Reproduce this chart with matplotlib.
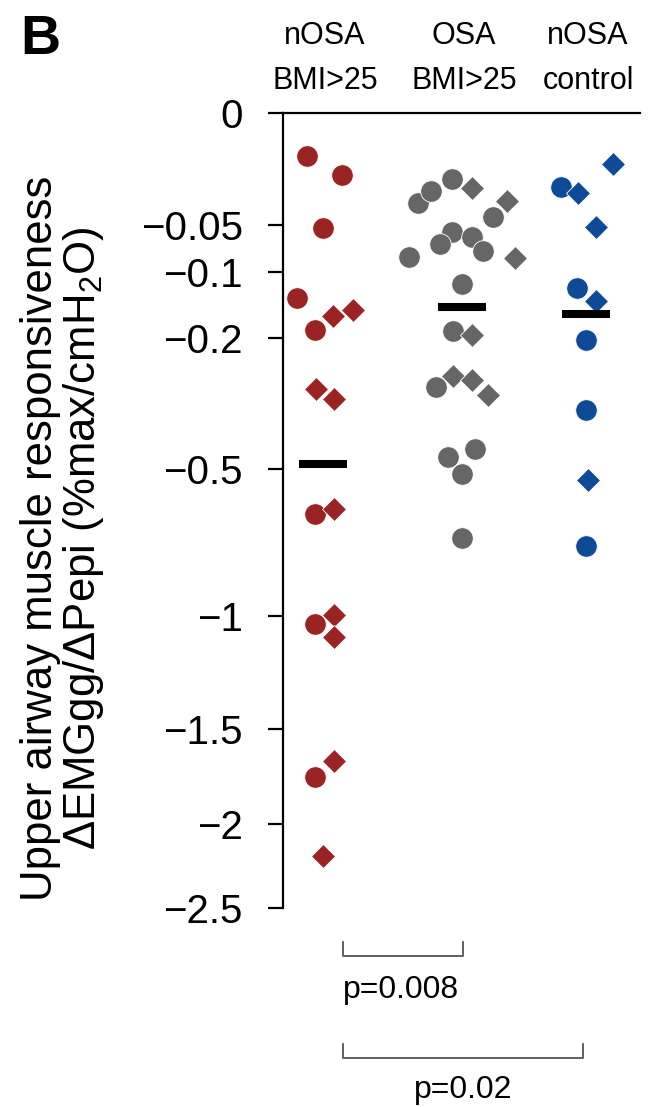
import numpy as np
import matplotlib
matplotlib.use("Agg")
import matplotlib.pyplot as plt

plt.rcParams['font.family'] = ['Liberation Sans', 'DejaVu Sans']
plt.rcParams['mathtext.fontset'] = 'custom'
plt.rcParams['mathtext.rm'] = 'Liberation Sans'

# ---- data ----
groups = ["nOSA\nBMI>25", "OSA\nBMI>25", "nOSA\ncontrol"]
colors = ["#9a2423", "#666666", "#0e4a96"]

red_circles = [-0.0074, -0.0154, -0.052, -0.135, -0.187, -0.637, -1.032, -1.742]
red_diamonds = [-0.163, -0.154, -0.302, -0.323, -0.621, -0.996, -1.086, -1.659, -2.185]

gray_circles = [-0.0317, -0.0243, -0.0174, -0.0424, -0.0557, -0.0676, -0.0605, -0.0751,
                -0.0818, -0.1156, -0.188, -0.296, -0.468, -0.446, -0.5155, -0.716]
gray_diamonds = [-0.0225, -0.0303, -0.0829, -0.195, -0.2746, -0.281, -0.3136]

blue_circles = [-0.0219, -0.121, -0.204, -0.348, -0.740]
blue_diamonds = [-0.0256, -0.0104, -0.0511, -0.140, -0.533]

yticks = [0, -0.05, -0.1, -0.2, -0.5, -1, -1.5, -2, -2.5]
ytick_labels = ["0", "\u22120.05", "\u22120.1", "\u22120.2", "\u22120.5",
                "\u22121", "\u22121.5", "\u22122", "\u22122.5"]

pvals = ["p=0.008", "p=0.02"]

# ---- layout (horizontal swarm offsets, px) ----
centers = [40, 179, 303]
red_c_dx = [-16, 19, 0, -26, -8, -8, -8, -8]
red_d_dx = [10, 30, -7, 11, 11, 11, 11, 11, 0]
gray_c_dx = [-44, -31, -10, 31, -10, -22, 10, 21, -53, 0, -9, -26, -14, 13, 0, 0]
gray_d_dx = [10, 45, 53, 10, -9, 10, 26]
blue_c_dx = [-25, -9, 0, 0, 0]
blue_d_dx = [-8, 27, 10, 10, 2]

circles = [red_circles, gray_circles, blue_circles]
diamonds = [red_diamonds, gray_diamonds, blue_diamonds]
c_dx = [red_c_dx, gray_c_dx, blue_c_dx]
d_dx = [red_d_dx, gray_d_dx, blue_d_dx]


def fwd(y):
    return np.sign(y) * np.sqrt(np.abs(y))


def inv(t):
    return np.sign(t) * t ** 2


W, H = 654, 1107
fig = plt.figure(figsize=(W / 100, H / 100), dpi=100)
ax = fig.add_axes([283 / W, 1 - 908 / H, (640 - 283) / W, (908 - 113) / H])
ax.set_yscale('function', functions=(fwd, inv))
ax.set_ylim(-2.5, 0)
ax.set_xlim(0, 357)

for i in range(3):
    cx = centers[i]
    ax.plot(cx + np.array(c_dx[i]), circles[i], 'o', ms=15.5, color=colors[i],
            mec='white', mew=0.6, zorder=3, clip_on=False)
    ax.plot(cx + np.array(d_dx[i]), diamonds[i], 'D', ms=12.3, color=colors[i],
            mec='white', mew=0.6, zorder=3, clip_on=False)
    # group mean line (mean taken on the sqrt axis)
    allv = np.array(circles[i] + diamonds[i])
    m = -np.mean(np.sqrt(-allv)) ** 2
    ax.hlines(m, cx - 24, cx + 24, color='black', lw=5.8, zorder=4)
    ax.text(cx + 2, 1.022, groups[i], transform=ax.get_xaxis_transform(),
            ha='center', va='bottom', fontsize=22, linespacing=1.65)

ax.spines['right'].set_visible(False)
ax.spines['bottom'].set_visible(False)
ax.spines['left'].set_linewidth(1.6)
ax.spines['top'].set_linewidth(1.6)
ax.set_xticks([])
ax.set_yticks(yticks)
ax.set_yticklabels(ytick_labels)
ax.tick_params(axis='y', direction='out', length=11, width=1.6, pad=18, labelsize=29)

ax.set_ylabel("Upper airway muscle responsiveness\n"
              "\u0394EMGgg/\u0394Pepi (%max/cmH$_\\mathregular{2}$O)",
              fontsize=31.5, linespacing=1.0)
ax.yaxis.set_label_coords((106 - 283) / 357, 0.465)

fig.text(20 / W, 1 - 14 / H, "B", fontsize=40, fontweight='bold', ha='left', va='top')

# p-value brackets
bcol = '#555555'
tr = ax.get_xaxis_transform()
brackets = [(60, 180, -0.043, -0.06, 118, -0.103),
            (60, 300, -0.171, -0.189, 180, -0.229)]
for (x0, x1, ytop, ybot, tx, ty), label in zip(brackets, pvals):
    ax.plot([x0, x0, x1, x1], [ytop, ybot, ybot, ytop], color=bcol, lw=1.3,
            transform=tr, clip_on=False, solid_joinstyle='round')
    ax.text(tx, ty, label, transform=tr, ha='center', va='center', fontsize=23)

fig.savefig("out.png", dpi=100)
